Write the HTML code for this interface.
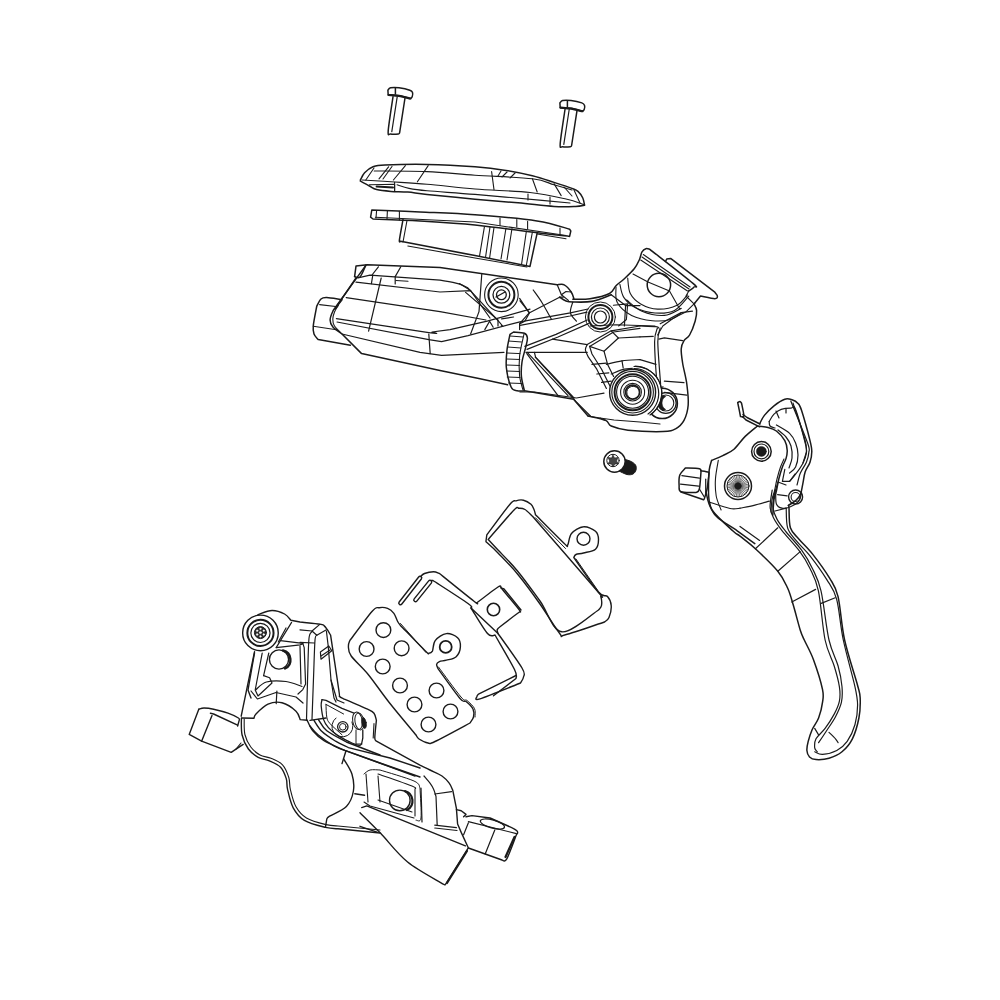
<!DOCTYPE html>
<html><head><meta charset="utf-8"><style>
html,body{margin:0;padding:0;background:#fff;width:1000px;height:1000px;overflow:hidden}
svg{display:block}
</style></head><body>
<svg width="1000" height="1000" viewBox="0 0 1000 1000">
<g fill="none" stroke="#1a1a1a" stroke-linejoin="round" stroke-linecap="round">
<path stroke-width="1.4" d="M486.0,541.0 L486.8,535.0 C490.6,529.9 505.1,509.9 510.0,504.2 C514.9,498.6 513.8,501.5 516.0,500.8 C518.2,500.1 521.0,499.6 523.5,500.2 C526.0,500.8 529.2,502.7 531.0,504.2 C532.8,505.8 533.2,507.8 534.0,509.5 C534.8,511.2 535.2,513.9 535.5,514.8 C540.2,519.5 558.6,538.2 564.0,543.2 C569.4,548.2 566.5,546.4 567.8,544.8 C569.0,543.1 568.9,536.5 571.5,533.5 C574.1,530.5 579.5,527.1 583.5,526.8 C587.5,526.4 593.0,529.1 595.5,531.2 C598.0,533.4 598.5,536.5 598.5,539.5 C598.5,542.5 598.0,547.0 595.5,549.2 C593.0,551.5 586.8,552.1 583.5,553.0 C580.2,553.9 577.6,553.8 576.0,554.5 C574.4,555.2 574.1,557.0 573.8,557.5 C577.9,563.2 592.9,585.5 598.5,592.0 C604.1,598.5 605.4,594.2 607.5,596.5 C609.6,598.8 611.0,602.0 611.2,605.5 C611.5,609.0 610.1,614.8 609.0,617.5 C607.9,620.2 605.2,621.2 604.5,622.0 C598.0,624.1 573.0,632.9 565.5,634.8 C558.0,636.6 563.8,638.4 559.5,633.2 C555.2,628.1 547.0,613.9 540.0,604.0 C533.0,594.1 524.5,582.5 517.5,574.0 C510.5,565.5 503.2,558.4 498.0,553.0 C492.8,547.6 488.0,543.6 486.0,541.8 Z"/>
<path stroke-width="1.4" d="M488.2,539.5 C492.5,534.6 508.6,515.5 513.8,510.2 C518.9,505.1 517.1,508.4 519.0,508.3 C520.9,508.2 522.8,508.2 525.0,509.5 C527.2,510.8 531.2,515.1 532.5,516.2 C543.1,528.5 584.9,576.4 596.2,589.8 C607.6,603.1 599.9,593.9 600.8,596.5 C601.6,599.1 601.9,603.2 601.5,605.5 C601.1,607.8 599.0,609.2 598.5,610.0 C592.4,613.6 571.5,633.2 561.8,631.8 C552.0,630.2 547.4,611.1 540.0,601.0 C532.6,590.9 524.5,579.5 517.5,571.0 C510.5,562.5 502.9,555.2 498.0,550.0 C493.1,544.8 489.9,541.2 488.2,539.5"/>
<path stroke-width="1.0" d="M535.5,517.8 L565.5,548.5"/>
<path stroke-width="1.0" d="M576.0,559.0 L597.8,590.5"/>
<circle stroke-width="1.4" cx="583.5" cy="538.75" r="6.5"/>
<path stroke-width="1.4" d="M349.8,640.6 C353.5,635.7 367.3,616.7 372.2,611.2 C377.1,605.7 376.6,608.2 379.2,607.7 C381.8,607.2 385.2,607.5 387.6,608.4 C390.1,609.3 392.3,611.2 393.9,613.3 C395.5,615.4 396.3,619.0 397.4,621.0 C398.4,623.0 399.7,624.5 400.2,625.2 C404.4,629.5 420.6,646.4 425.4,651.1 C430.2,655.8 427.7,653.2 428.9,653.2 C430.1,653.2 431.3,653.2 432.4,651.1 C433.4,649.0 432.9,643.5 435.2,640.6 C437.5,637.7 442.7,634.1 446.4,633.6 C450.1,633.1 455.3,635.6 457.6,637.8 C459.9,640.0 460.6,643.8 460.4,646.9 C460.2,650.0 458.5,654.5 456.2,656.7 C453.9,658.9 449.2,659.4 446.4,660.2 C443.6,661.0 441.0,660.9 439.4,661.6 C437.8,662.3 436.8,663.2 436.6,664.4 C436.4,665.6 437.8,667.9 438.0,668.6 C441.7,673.6 455.3,693.0 460.0,698.5 C464.7,704.0 463.8,699.8 466.0,701.5 C468.2,703.2 471.8,706.4 473.0,709.0 C474.2,711.6 474.0,714.7 473.5,717.0 C473.0,719.3 470.6,722.0 470.0,723.0 C464.2,726.1 442.0,738.2 435.0,741.5 C428.0,744.8 430.7,743.4 428.0,743.0 C425.3,742.6 421.0,740.3 419.0,739.0 C417.0,737.7 416.5,735.7 416.0,735.0 C411.5,729.5 397.0,712.3 389.0,702.2 C381.0,692.1 374.3,681.9 368.0,674.2 C361.7,666.5 354.5,660.7 351.2,656.0 C347.9,651.3 348.6,648.8 348.4,646.2 C348.2,643.6 349.6,641.5 349.8,640.6 Z"/>
<path stroke-width="1.0" d="M400.5,623.5 L426.0,652.5"/>
<path stroke-width="1.0" d="M438.5,667.0 C442.2,672.0 456.2,691.4 461.0,697.0 C465.8,702.6 464.8,698.6 467.0,700.5 C469.2,702.4 473.2,705.8 474.5,708.5 C475.8,711.2 474.9,715.6 475.0,717.0"/>
<circle stroke-width="1.8" cx="445.7" cy="646.9" r="6.0"/>
<circle stroke-width="1.4" cx="383.4" cy="630.1" r="7.4"/>
<circle stroke-width="1.4" cx="366.6" cy="649.0" r="7.4"/>
<circle stroke-width="1.4" cx="401.6" cy="648.3" r="7.4"/>
<circle stroke-width="1.4" cx="382.7" cy="666.5" r="7.4"/>
<circle stroke-width="1.4" cx="400.0" cy="685.5" r="7.4"/>
<circle stroke-width="1.4" cx="436.5" cy="690.5" r="7.4"/>
<circle stroke-width="1.4" cx="414.5" cy="704.5" r="7.4"/>
<circle stroke-width="1.4" cx="450.5" cy="711.5" r="7.4"/>
<circle stroke-width="1.4" cx="428.5" cy="724.5" r="7.4"/>
<path stroke-width="1.4" d="M420.0,577.0 C420.8,576.4 422.2,574.4 424.5,573.5 C426.8,572.6 431.0,571.7 433.5,571.7 C436.0,571.7 438.5,573.2 439.5,573.5 C445.2,578.1 467.8,596.4 474.0,601.2 C480.2,606.1 476.5,602.5 477.0,602.8 C480.5,600.1 494.0,589.5 498.0,587.0 C502.0,584.5 500.5,587.6 501.0,587.8 C504.0,591.4 515.9,605.5 519.0,609.5 C522.1,613.5 519.6,611.4 519.8,611.8 C516.6,614.1 504.8,623.0 501.0,626.0 C497.2,629.0 497.8,628.5 497.2,629.8 C496.8,631.0 497.9,632.9 498.0,633.5 C502.0,639.2 517.8,660.8 522.0,668.0 C526.2,675.2 523.8,674.5 523.5,677.0 C523.2,679.5 521.0,682.0 520.5,683.0 C513.8,685.6 487.2,696.5 480.0,698.8 C472.8,701.0 477.2,697.2 477.0,696.5 C476.8,695.8 478.2,694.6 478.5,694.2 L516.0,675.5"/>
<path stroke-width="1.4" d="M429.5,582.0 C429.8,581.8 430.4,580.8 431.0,580.5 C431.6,580.2 432.7,580.5 433.0,580.5 C438.8,584.3 461.7,598.9 468.0,603.5 C474.3,608.1 470.5,607.2 471.0,608.0 C473.8,612.2 483.5,629.0 487.5,633.5 C491.5,638.0 493.8,634.8 495.0,635.0 C498.2,640.8 511.0,662.2 514.5,669.5 C518.0,676.8 515.8,677.0 516.0,678.5 L493.5,695.8"/>
<path stroke-width="1.4" d="M471.0,608.0 L498.0,633.5"/>
<path stroke-width="1.4" d="M501.0,587.8 L504.0,589.0 L521.0,610.0"/>
<path stroke-width="4.8" d="M400.5,603 L420,578"/>
<path stroke-width="4.8" d="M415.5,600 L430,582"/>
<path stroke-width="2.0" stroke="#ffffff" d="M400.5,603 L420,578"/>
<path stroke-width="2.0" stroke="#ffffff" d="M415.5,600 L430,582"/>
<circle stroke-width="1.6" cx="493.5" cy="609.5" r="6.2"/>
<path stroke-width="1.4" d="M258.0,614.7 C260.3,614.0 267.6,610.6 272.0,610.5 C276.4,610.4 281.5,612.4 284.6,614.0 C287.8,615.6 289.8,619.2 290.9,620.3 L300.0,622.0 C303.3,622.4 315.8,623.5 319.8,624.1 C323.8,624.7 322.8,624.8 324.0,625.6 C325.2,626.5 325.9,627.6 327.0,629.2 C328.1,630.8 330.0,634.2 330.6,635.2 C332.0,644.3 337.3,679.8 338.8,690.0 C340.3,700.2 338.8,694.9 339.6,696.4 C340.4,697.9 342.9,698.4 343.6,698.8 C347.6,700.5 362.5,706.8 367.6,709.2 C372.7,711.6 372.5,711.3 374.0,713.2 C375.5,715.1 376.0,719.2 376.4,720.4 C376.1,723.3 374.8,734.5 374.8,738.0 C374.8,741.5 376.1,740.7 376.4,741.2 L420.4,765.4 C422.0,766.2 426.4,768.2 430.0,770.0 C433.6,771.8 438.8,773.8 442.0,776.0 C445.2,778.2 447.4,780.8 449.2,783.2 C451.0,785.6 452.2,789.2 452.8,790.4 L456.4,808.4 L457.6,824.0 L461.2,832.4 L468.4,848.0"/>
<circle stroke-width="1.4" cx="260.45" cy="632.9" r="17.8"/>
<circle stroke-width="2.0" cx="260.45" cy="632.9" r="13.1"/>
<circle stroke-width="1.2" cx="260.45" cy="632.9" r="9.6"/>
<circle stroke-width="1.0" fill="#2a2a2a" cx="260.45" cy="632.6" r="6.0"/>
<circle stroke-width="0.3" stroke="#ffffff" fill="#ffffff" cx="263.74" cy="634.5" r="0.9"/>
<circle stroke-width="0.3" stroke="#ffffff" fill="#ffffff" cx="260.45" cy="636.4" r="0.9"/>
<circle stroke-width="0.3" stroke="#ffffff" fill="#ffffff" cx="257.16" cy="634.5" r="0.9"/>
<circle stroke-width="0.3" stroke="#ffffff" fill="#ffffff" cx="257.16" cy="630.7" r="0.9"/>
<circle stroke-width="0.3" stroke="#ffffff" fill="#ffffff" cx="260.45" cy="628.8" r="0.9"/>
<circle stroke-width="0.3" stroke="#ffffff" fill="#ffffff" cx="263.74" cy="630.7" r="0.9"/>
<circle stroke-width="0.3" stroke="#ffffff" fill="#ffffff" cx="260.45" cy="632.6" r="1.2"/>
<path stroke-width="1.4" d="M254.5,651.8 L241.2,716.2"/>
<path stroke-width="1.4" d="M254.5,653.0 L248.0,690.0 L251.0,698.0"/>
<circle stroke-width="1.4" cx="279.0" cy="659.5" r="9.6"/>
<path stroke-width="2.4" d="M283,650.5 A9.6,9.6 0 0 1 285,668.5"/>
<path stroke-width="1.2" d="M291.6,622.4 L280.4,640.6 L276.2,647.6"/>
<path stroke-width="1.2" d="M286.0,628.0 L278.3,642.0"/>
<path stroke-width="1.2" d="M280.4,640.6 L302.8,643.4"/>
<path stroke-width="1.2" d="M276.2,647.6 L300.0,644.8 L302.8,644.0"/>
<path stroke-width="1.2" d="M302.8,643.4 L304.2,647.6 L305.6,684.0 L302.8,689.6 L298.0,694.0"/>
<path stroke-width="1.2" d="M300.0,646.0 L301.0,684.0"/>
<path stroke-width="1.2" d="M262.2,653.2 L255.2,690.0 L258.0,696.0 L272.0,683.0 L269.6,677.8 L263.6,675.6"/>
<path stroke-width="1.2" d="M268.8,653.0 L263.6,675.6"/>
<path stroke-width="1.2" d="M251.0,691.0 L257.4,699.0 L276.0,692.5 L296.0,697.0 L303.0,703.0"/>
<path stroke-width="1.2" d="M255.5,690.0 C257.3,688.7 261.3,683.4 266.4,682.0 C271.5,680.6 280.1,680.8 286.0,681.5 C291.9,682.2 299.3,685.7 302.0,686.5"/>
<path stroke-width="1.2" d="M276.9,691.0 L276.2,703.6"/>
<path stroke-width="1.2" d="M300.0,629.8 L312.0,631.0 L316.8,635.2 L326.4,629.8"/>
<path stroke-width="1.2" d="M319.8,624.4 L312.0,631.0"/>
<path stroke-width="1.2" d="M312.0,631.6 C311.5,632.7 309.7,631.8 309.0,638.2 C308.3,644.6 308.0,664.7 307.8,670.0 L306.5,720.0"/>
<path stroke-width="1.2" d="M316.8,635.2 C316.5,636.0 315.5,634.2 315.0,640.0 C314.5,645.8 314.0,665.0 313.8,670.0 L312.0,719.5"/>
<path stroke-width="1.2" d="M326.4,631.0 L328.2,646.0 L331.0,680.0 L334.0,698.0 L336.0,702.0"/>
<path stroke-width="1.2" d="M300.0,642.4 L314.4,643.0"/>
<path stroke-width="1.2" d="M320.4,652.0 L328.8,646.0 L331.8,650.8 L321.0,659.2 L320.4,652.0"/>
<path stroke-width="1.2" d="M321.0,656.0 L330.0,650.0"/>
<path stroke-width="1.2" d="M331.0,680.0 L337.0,700.0 L344.0,703.0"/>
<path stroke-width="1.4" d="M241.6,718.0 L254.0,718.2 C254.3,717.5 253.7,716.3 256.0,714.0 C258.3,711.7 263.7,706.1 268.0,704.2 C272.3,702.3 277.3,701.6 282.0,702.8 C286.7,704.0 293.0,708.4 296.0,711.2 C299.0,714.0 299.5,718.2 300.2,719.6 L307.2,720.3"/>
<path stroke-width="1.4" d="M198.8,709.2 C199.7,709.0 201.5,708.0 204.0,708.0 C206.5,708.0 209.6,708.3 213.6,709.2 C217.6,710.1 223.9,711.7 228.0,713.2 C232.1,714.7 236.5,716.8 238.4,718.0 C240.3,719.2 239.1,720.0 239.2,720.4 L237.6,726.0"/>
<path stroke-width="1.4" d="M198.8,709.2 L189.2,734.4 L201.6,741.2 L231.2,752.4 L236.0,749.2 L243.2,744.4"/>
<path stroke-width="1.1" d="M236.0,749.2 L241.0,743.0"/>
<path stroke-width="1.4" d="M210.4,713.2 L213.6,714.0 L237.6,725.2"/>
<path stroke-width="1.4" d="M212.0,715.6 L201.6,741.2"/>
<path stroke-width="1.4" d="M241.4,718.2 C241.5,721.0 240.9,729.9 242.1,735.0 C243.3,740.1 245.7,745.3 248.4,749.0 C251.1,752.7 254.7,755.4 258.2,757.4 C261.7,759.4 265.7,759.3 269.4,760.9 C273.1,762.5 277.8,764.3 280.6,767.2 C283.4,770.1 285.0,774.7 286.2,778.4 C287.4,782.1 286.4,784.7 287.6,789.6 C288.8,794.5 290.4,802.7 293.2,807.8 C296.0,812.9 299.0,817.1 304.4,820.4 C309.8,823.7 319.8,826.0 325.4,827.4 C331.0,828.8 335.9,828.6 338.0,828.8 L380.0,833.0"/>
<path stroke-width="1.1" d="M244.2,719.0 C244.3,721.6 243.8,729.8 244.9,734.5 C246.0,739.2 248.3,743.6 250.8,747.0 C253.3,750.4 256.6,753.1 260.0,755.0 C263.4,756.9 267.2,756.7 271.0,758.3 C274.8,759.9 279.5,761.6 282.5,764.8 C285.5,768.0 287.5,773.4 288.8,777.5 C290.1,781.6 289.2,784.7 290.4,789.6 C291.6,794.5 293.3,802.1 296.0,806.8 C298.7,811.5 301.4,815.0 306.4,818.0 C311.4,821.0 320.7,823.3 326.0,824.6 C331.3,825.9 336.0,825.8 338.0,826.0 L380.0,830.0"/>
<path stroke-width="1.4" d="M343.6,758.8 C345.0,761.4 350.4,768.8 352.0,774.2 C353.6,779.6 354.3,785.6 353.4,791.0 C352.5,796.4 350.4,802.2 346.4,806.4 C342.4,810.6 332.9,814.1 329.6,816.2 C326.3,818.3 327.3,818.5 326.8,819.0 L325.4,827.4"/>
<path stroke-width="1.4" d="M354.8,793.8 L364.6,795.2"/>
<path stroke-width="1.4" d="M307.2,720.3 C308.1,722.0 310.0,727.4 312.8,730.8 C315.6,734.2 318.6,737.3 324.0,740.6 C329.4,743.9 341.5,748.8 345.0,750.4 L380.0,763.0 L420.0,777.0"/>
<path stroke-width="1.4" d="M318.4,719.6 C319.8,721.5 322.1,727.1 326.8,730.8 C331.5,734.5 343.1,740.1 346.4,742.0 L380.0,755.0"/>
<path stroke-width="1.4" d="M346.0,750.8 L342.0,763.6"/>
<path stroke-width="1.4" d="M310.0,726.0 C311.3,727.5 314.0,731.5 318.0,734.8 C322.0,738.1 329.3,743.3 334.0,746.0 C338.7,748.7 344.0,750.0 346.0,750.8 L390.0,766.8 L415.0,776.0"/>
<path stroke-width="1.4" d="M314.0,720.4 C315.3,722.3 318.4,728.1 322.0,731.6 C325.6,735.1 331.2,738.5 335.6,741.2 C340.0,743.9 346.3,746.5 348.4,747.6 L390.0,758.0 L420.0,768.0"/>
<path stroke-width="1.4" d="M310.0,720.4 L326.0,718.0"/>
<path stroke-width="1.1" d="M374.0,723.6 L373.2,738.0"/>
<path stroke-width="1.3" d="M322.0,699.6 C321.9,700.7 320.9,702.7 321.2,706.0 C321.5,709.3 322.4,716.0 323.6,719.6 C324.8,723.2 326.0,724.9 328.4,727.6 C330.8,730.3 334.4,733.2 338.0,735.6 C341.6,738.0 346.7,740.4 350.0,742.0 C353.3,743.6 356.1,744.8 358.0,745.2 C359.9,745.6 360.4,745.6 361.2,744.4 C362.0,743.2 362.5,739.1 362.8,738.0 L362.8,730.0"/>
<path stroke-width="1.3" d="M322.0,699.6 L326.0,700.4 L342.0,708.4 L354.0,713.2"/>
<path stroke-width="1.0" d="M326.0,704.4 L343.6,714.0"/>
<path stroke-width="1.0" d="M326.0,704.4 C326.1,706.5 326.1,714.0 326.8,717.2 C327.5,720.4 327.5,720.7 330.0,723.6 C332.5,726.5 340.0,732.9 342.0,734.8"/>
<path stroke-width="1.0" d="M336,718 A10.5,10.5 0 1 0 352,722"/>
<circle stroke-width="1.3" cx="342.8" cy="726.8" r="5.2"/>
<circle stroke-width="1.0" cx="342.8" cy="726.8" r="3.3"/>
<ellipse stroke-width="1.0" cx="357.5" cy="720.8" rx="4.8" ry="8.8" transform="rotate(-10.0 357.5 720.8)"/>
<ellipse stroke-width="1.0" cx="359.5" cy="721.5" rx="4.5" ry="8.5" transform="rotate(-10.0 359.5 721.5)"/>
<ellipse stroke-width="0.8" fill="#1a1a1a" cx="364.0" cy="723.0" rx="2.2" ry="5.5" transform="rotate(-10.0 364.0 723.0)"/>
<path stroke-width="1.0" d="M356.0,730.0 L356.0,744.0 L362.0,744.0"/>
<path stroke-width="1.0" d="M364.0,774.0 C365.0,773.3 367.3,770.7 370.0,770.0 C372.7,769.3 378.3,770.0 380.0,770.0 C385.7,771.8 407.3,778.0 414.0,781.0 C420.7,784.0 419.0,786.8 420.0,788.0 C420.2,793.0 421.7,812.7 421.0,818.0 C420.3,823.3 416.8,819.7 416.0,820.0"/>
<path stroke-width="1.1" d="M378.0,774.0 C383.7,776.0 405.8,783.5 412.0,786.0 C418.2,788.5 414.5,788.5 415.0,789.0 L415.0,816.0"/>
<path stroke-width="1.1" d="M366.0,774.0 L368.0,802.0"/>
<path stroke-width="1.1" d="M378.0,776.0 L380.0,802.0"/>
<path stroke-width="1.1" d="M364.0,802.0 L370.0,806.0 L414.0,818.0"/>
<path stroke-width="1.1" d="M378.0,800.0 L412.0,812.0"/>
<circle stroke-width="1.4" cx="399.8" cy="800.4" r="10.3"/>
<path stroke-width="2.2" d="M405,791 A10.3,10.3 0 0 1 407,810"/>
<path stroke-width="1.2" d="M424.0,776.0 C425.0,777.2 428.4,781.0 430.0,783.2 C431.6,785.4 432.6,787.0 433.6,789.2 C434.6,791.4 435.6,795.2 436.0,796.4 L437.2,825.2"/>
<path stroke-width="1.2" d="M421.0,788.0 L422.0,822.0"/>
<path stroke-width="1.2" d="M434.8,794.0 L451.6,791.6"/>
<path stroke-width="1.2" d="M434.8,825.2 L456.4,827.6"/>
<path stroke-width="1.2" d="M434.8,828.0 L457.0,830.5"/>
<path stroke-width="1.4" d="M361.7,807.6 L366.8,805.9 L465.4,845.9"/>
<path stroke-width="1.4" d="M468.0,848.4 L445.0,885.0 L443.3,884.1 C437.4,880.4 418.1,870.5 407.6,862.0 C397.1,853.5 388.3,841.3 380.4,833.1 C372.5,824.9 363.4,816.1 360.0,812.7"/>
<path stroke-width="2.2" d="M467.0,851.0 L447.0,883.0"/>
<path stroke-width="1.4" d="M360.0,826.3 L377.0,832.2"/>
<path stroke-width="1.4" d="M456.4,809.6 L461.2,810.8 L466.0,814.4 L463.6,816.8"/>
<path stroke-width="1.4" d="M466.0,816.8 L472.0,815.6 L490.0,818.0 C494.0,819.8 509.4,826.4 514.0,828.8 C518.6,831.2 517.2,831.4 517.6,832.4 C518.0,833.4 516.6,834.4 516.4,834.8 C514.8,838.8 509.2,854.6 506.8,858.8 C504.4,863.0 502.8,859.8 502.0,860.0 L468.4,848.0"/>
<path stroke-width="1.2" d="M468.4,821.6 L516.4,833.6"/>
<path stroke-width="1.2" d="M494.8,830.0 L485.2,854.0"/>
<path stroke-width="1.2" d="M468.4,822.8 L463.6,834.8"/>
<ellipse stroke-width="1.2" cx="492.4" cy="824.0" rx="12.5" ry="4.0" transform="rotate(15.0 492.4 824.0)"/>
<path stroke-width="2.2" d="M514.5,837.0 L505.5,857.0"/>
<path stroke-width="1.5" d="M387.9,90.2 C388.3,89.8 388.8,88.2 390.6,87.8 C392.5,87.4 395.8,87.4 399.0,87.8 C402.2,88.2 407.6,89.4 409.8,90.2 C412.1,91.0 412.1,91.5 412.5,92.6 C412.9,93.7 412.6,95.8 412.2,96.8 C411.8,97.8 410.7,98.3 410.4,98.6 C408.5,98.1 402.7,96.2 399.0,95.6 C395.3,95.0 390.0,95.1 388.2,95.0 L387.9,90.2 Z"/>
<path stroke-width="1.5" d="M395.4,88.4 L395.4,94.0"/>
<path stroke-width="2.2" d="M388.5,95.0 C390.2,95.2 395.4,95.4 399.0,96.0 C402.6,96.6 408.5,98.1 410.4,98.5"/>
<path stroke-width="1.5" d="M393.0,96.8 C392.2,102.5 388.6,124.8 388.2,131.0 C387.8,137.2 388.9,133.5 390.6,134.0 C392.3,134.5 396.9,134.2 398.4,134.0 C399.9,133.8 399.4,133.0 399.6,132.8 L405.0,98.0"/>
<path stroke-width="1.2" d="M397.2,96.8 L391.8,131.6"/>
<path stroke-width="1.5" d="M559.9,102.9 C560.4,102.5 560.8,100.9 562.6,100.5 C564.5,100.1 567.8,100.1 571.0,100.5 C574.2,100.9 579.5,102.1 581.8,102.9 C584.0,103.7 584.1,104.2 584.5,105.3 C584.9,106.4 584.6,108.5 584.2,109.5 C583.9,110.5 582.7,111.0 582.4,111.3 C580.5,110.8 574.7,108.9 571.0,108.3 C567.3,107.7 562.0,107.8 560.2,107.7 L559.9,102.9 Z"/>
<path stroke-width="1.5" d="M567.4,101.1 L567.4,106.7"/>
<path stroke-width="2.2" d="M560.5,107.7 C562.2,107.9 567.4,108.1 571.0,108.7 C574.6,109.3 580.5,110.8 582.4,111.2"/>
<path stroke-width="1.5" d="M565.0,109.5 C564.2,115.2 560.6,137.5 560.2,143.7 C559.8,149.9 560.9,146.2 562.6,146.7 C564.3,147.2 568.9,146.9 570.4,146.7 C571.9,146.5 571.4,145.7 571.6,145.5 L577.0,110.7"/>
<path stroke-width="1.2" d="M569.2,109.5 L563.8,144.3"/>
<path stroke-width="1.5" d="M360.4,180.0 C361.1,178.8 362.5,175.0 364.6,172.8 C366.7,170.6 369.6,168.1 373.0,166.8 C376.4,165.5 376.0,165.4 385.0,165.0 C394.0,164.6 412.0,164.1 427.0,164.4 C442.0,164.7 461.8,165.8 475.0,166.8 C488.2,167.8 496.4,168.9 506.0,170.4 C515.6,171.9 524.4,173.8 532.4,175.8 C540.4,177.8 547.4,180.3 554.0,182.4 C560.6,184.5 568.0,186.9 572.0,188.4 C576.0,189.9 576.2,189.8 578.0,191.4 C579.8,193.0 581.7,195.7 582.8,198.0 C583.9,200.3 584.3,204.0 584.6,205.2 C583.1,205.4 580.7,206.2 575.6,206.4 C570.5,206.6 563.6,207.0 554.0,206.4 C544.4,205.8 531.2,204.0 518.0,202.8 C504.8,201.6 490.2,200.6 475.0,199.2 C459.8,197.8 438.2,195.6 427.0,194.4 C415.8,193.2 413.8,192.5 407.8,192.0 C401.8,191.5 396.2,191.8 391.0,191.4 C385.8,191.0 380.2,190.5 376.6,189.6 C373.0,188.7 372.1,187.4 369.4,186.0 C366.7,184.6 361.9,182.0 360.4,181.2 Z"/>
<path stroke-width="1.1" d="M362.2,180.0 C367.0,180.3 380.2,181.1 391.0,181.8 C401.8,182.5 413.0,183.0 427.0,184.2 C441.0,185.4 457.8,187.6 475.0,189.0 C492.2,190.4 514.8,190.8 530.0,192.5 C545.2,194.2 557.0,197.0 566.0,199.0 C575.0,201.0 581.0,203.7 584.0,204.6"/>
<path stroke-width="1.1" d="M369.4,184.8 L394.6,184.2 L394.6,190.8"/>
<path stroke-width="2.0" d="M376.6,186.5 L393.0,187.5"/>
<path stroke-width="1.1" d="M374.2,171.0 C383.0,171.1 410.2,170.9 427.0,171.6 C443.8,172.3 457.4,174.0 475.0,175.2 C492.6,176.4 519.2,177.2 532.4,178.8 C545.6,180.4 547.4,182.9 554.0,184.8 C560.6,186.7 569.0,189.1 572.0,190.0"/>
<path stroke-width="1.1" d="M397.0,184.8 C399.0,185.4 404.0,187.4 409.0,188.4 C414.0,189.4 416.0,189.8 427.0,190.8 C438.0,191.8 455.8,192.8 475.0,194.4 C494.2,196.0 526.2,199.0 542.0,200.4 C557.8,201.8 565.3,202.6 570.0,203.0"/>
<path stroke-width="1.1" d="M365.8,180.0 L374.0,168.0"/>
<path stroke-width="1.1" d="M379.0,178.8 L388.6,166.8"/>
<path stroke-width="1.1" d="M383.0,179.0 L392.0,166.5"/>
<path stroke-width="1.1" d="M393.4,180.0 L405.4,165.6"/>
<path stroke-width="1.1" d="M417.4,181.8 L428.2,165.6"/>
<path stroke-width="1.1" d="M394.6,182.4 L394.6,190.8"/>
<path stroke-width="1.1" d="M491.6,171.6 L494.0,189.6"/>
<path stroke-width="1.1" d="M501.0,171.0 L498.0,176.0"/>
<path stroke-width="1.1" d="M507.0,172.0 L502.0,177.0"/>
<path stroke-width="1.1" d="M515.0,173.0 L510.0,178.0"/>
<path stroke-width="1.1" d="M532.4,178.8 L537.2,192.0"/>
<path stroke-width="1.1" d="M554.0,183.6 L561.2,195.6"/>
<path stroke-width="1.1" d="M564.0,187.0 L572.0,196.0"/>
<path stroke-width="1.1" d="M574.0,190.0 L580.0,203.0"/>
<path stroke-width="1.1" d="M528.0,194.0 L528.0,200.0"/>
<path stroke-width="1.1" d="M550.0,197.0 L550.0,204.0"/>
<path stroke-width="1.5" d="M371.8,210.0 C379.8,210.3 402.8,211.2 420.0,212.0 C437.2,212.8 455.5,213.3 475.0,214.8 C494.5,216.3 521.2,218.6 537.0,221.0 C552.8,223.4 564.2,227.8 569.6,229.2 L570.8,231.0 L569.6,236.4 C564.2,235.8 553.0,234.7 537.2,232.8 C521.4,230.9 494.5,227.0 475.0,225.0 C455.5,223.0 437.0,222.0 420.0,221.0 C403.0,220.0 380.8,219.3 373.0,219.0 L370.6,217.2 Z"/>
<path stroke-width="1.1" d="M375.4,217.2 L475.0,222.0 L566.0,235.5"/>
<path stroke-width="1.1" d="M376.6,210.5 L376.0,218.0"/>
<path stroke-width="1.1" d="M387.4,210.8 L387.0,219.0"/>
<path stroke-width="1.1" d="M399.4,211.3 L399.4,220.0"/>
<path stroke-width="1.1" d="M500.0,218.0 L500.0,225.5"/>
<path stroke-width="1.1" d="M516.8,219.6 L516.8,227.0"/>
<path stroke-width="1.1" d="M527.6,221.4 L527.6,229.0"/>
<path stroke-width="1.1" d="M560.0,228.0 L560.0,235.0"/>
<path stroke-width="1.5" d="M403.0,219.6 C402.4,223.0 399.8,236.4 399.4,240.0 C399.0,243.6 400.4,241.0 400.6,241.2 L475.0,255.6 L530.0,266.4 L537.2,232.8"/>
<path stroke-width="1.1" d="M407.0,220.5 L403.0,242.0"/>
<path stroke-width="1.1" d="M407.8,246.0 L475.0,258.0 L527.0,267.0"/>
<path stroke-width="1.1" d="M537.2,234.0 L566.0,238.8"/>
<path stroke-width="1.1" d="M484.4,226.8 L479.6,255.6"/>
<path stroke-width="1.1" d="M490.0,227.0 L485.6,256.8"/>
<path stroke-width="1.1" d="M494.0,227.5 L489.6,258.0"/>
<path stroke-width="1.1" d="M506.0,228.0 L501.0,259.0"/>
<path stroke-width="1.1" d="M512.0,228.5 L507.0,260.0"/>
<path stroke-width="1.1" d="M526.4,231.0 L521.6,264.0"/>
<path stroke-width="1.1" d="M532.4,232.0 L526.4,265.0"/>
<path stroke-width="1.0" fill="#1a1a1a" d="M619.0,458.0 C620.8,458.5 627.2,459.8 630.0,461.0 C632.8,462.2 634.5,463.5 635.5,465.0 C636.5,466.5 636.4,468.5 636.0,470.0 C635.6,471.5 634.5,473.2 633.0,474.0 C631.5,474.8 629.3,475.0 627.0,474.5 C624.7,474.0 620.3,471.6 619.0,471.0 Z"/>
<circle stroke-width="1.5" fill="#ffffff" cx="614.5" cy="461.5" r="10.7"/>
<circle stroke-width="1.0" cx="613.0" cy="460.5" r="6.2"/>
<path stroke-width="0.6" fill="#444444" d="M613,455 L614.5,458 L618,457.5 L616.5,461 L618.5,464 L614.8,464 L613,467 L611.5,464 L607.8,464 L609.8,461 L608,457.5 L611.5,458 Z"/>
<path stroke-width="1.5" d="M335.0,308.8 L342.0,299.7 C339.4,299.4 330.1,297.7 326.6,297.6 C323.1,297.5 322.6,297.6 321.0,299.0 C319.4,300.4 317.5,304.8 316.8,306.0 C316.2,309.3 313.8,320.9 313.3,325.6 C312.8,330.3 313.2,331.7 314.0,334.0 C314.8,336.3 317.5,338.7 318.2,339.6 L350.4,345.2"/>
<path stroke-width="1.1" d="M319.6,304.6 L337.8,306.7"/>
<path stroke-width="1.1" d="M313.3,326.3 L336.4,329.8"/>
<path stroke-width="1.5" d="M354.6,276.6 L356.0,266.1 L367.2,264.7 L440.0,267.5 L557.2,284.8 C558.4,284.8 561.9,283.6 564.2,284.8 C566.5,286.0 569.6,289.6 571.2,292.0 C572.8,294.4 573.5,297.8 574.0,299.0 L572.8,299.2 C575.7,299.1 583.9,299.6 590.0,298.7 C596.1,297.8 605.2,295.7 609.5,293.5 C613.8,291.3 613.6,288.1 616.0,285.7 C618.4,283.3 620.8,282.0 623.8,279.2 C626.8,276.4 631.6,272.1 634.2,268.8 C636.8,265.6 638.1,262.5 639.4,259.7 C640.7,256.9 640.9,253.7 642.0,251.9 C643.1,250.1 644.6,249.1 645.9,248.7 C647.2,248.3 649.1,249.2 649.8,249.3 C656.9,254.9 685.3,276.8 692.7,283.1 C700.1,289.4 694.6,285.7 694.0,287.0 C693.4,288.3 689.7,290.2 688.8,290.9"/>
<path stroke-width="1.5" d="M365.8,265.4 C360.9,272.2 341.9,298.4 336.4,306.0 C330.9,313.6 334.1,308.7 333.0,311.0 C331.9,313.3 330.1,317.3 330.1,320.0 C330.1,322.7 330.9,324.7 332.9,327.0 C334.9,329.3 340.5,332.8 342.0,334.0 L361.6,353.6 L440.0,370.4 L480.0,378.8 L507.6,384.8"/>
<path stroke-width="1.5" d="M356.0,278.0 L335.0,308.8"/>
<path stroke-width="1.5" d="M354.6,276.6 C355.5,276.7 358.1,278.9 360.0,277.0 C361.9,275.1 364.8,267.3 365.8,265.4"/>
<path stroke-width="1.5" d="M524.4,390.8 L573.6,399.2 L588.0,416.0 C590.9,416.7 601.7,418.7 605.6,420.4 C609.5,422.1 607.5,424.4 611.2,426.0 C614.9,427.6 619.4,429.3 628.0,430.2 C636.6,431.1 655.1,431.8 663.0,431.6 C670.9,431.4 672.1,430.7 675.6,428.8 C679.1,426.9 681.9,424.4 684.0,420.4 C686.1,416.4 687.7,411.1 688.2,405.0 C688.7,398.9 687.7,391.0 686.8,384.0 C685.9,377.0 683.5,368.8 682.6,363.0 C681.7,357.2 681.0,352.7 681.2,349.0 C681.4,345.3 682.6,342.9 684.0,340.6 C685.4,338.3 687.7,338.3 689.6,335.0 C691.5,331.7 694.0,325.1 695.2,321.0 C696.4,316.9 696.8,313.2 696.6,310.4 C696.4,307.5 694.4,305.0 694.0,303.9 L700.5,296.1 C702.9,296.5 712.0,298.7 714.8,298.7 C717.6,298.7 717.4,297.2 717.4,296.1 C717.4,295.0 715.2,292.9 714.8,292.2 L670.6,258.4 L666.7,259.0 L665.5,261.5"/>
<path stroke-width="1.1" d="M643.3,254.5 L690.1,287.0"/>
<path stroke-width="1.1" d="M642.0,257.0 L689.0,289.0"/>
<path stroke-width="1.1" d="M640.7,260.0 L687.5,291.0"/>
<path stroke-width="1.1" d="M688.8,290.9 L686.0,296.0 L694.0,303.9"/>
<circle stroke-width="1.5" cx="658.9" cy="285.0" r="11.7"/>
<path stroke-width="1.1" d="M633.0,274.0 L648.0,282.0 L669.5,291.0 L679.7,309.1"/>
<path stroke-width="1.1" d="M619.9,284.4 C620.5,286.6 621.2,293.5 623.8,297.4 C626.4,301.3 630.3,305.2 635.5,307.8 C640.7,310.4 648.5,312.6 655.0,313.0 C661.5,313.4 668.9,313.2 674.5,310.4 C680.1,307.6 686.4,298.5 688.8,296.1"/>
<path stroke-width="1.1" d="M627.7,278.0 C628.1,280.6 628.1,289.2 630.3,293.5 C632.5,297.8 636.2,301.3 640.7,303.9 C645.2,306.5 651.5,308.9 657.6,309.1 C663.7,309.3 672.1,307.6 677.1,305.2 C682.1,302.8 685.8,296.5 687.5,294.8"/>
<path stroke-width="1.1" d="M616.0,287.0 C616.2,289.6 614.7,297.8 617.3,302.6 C619.9,307.4 625.8,312.6 631.6,315.6 C637.5,318.6 645.9,320.2 652.4,320.8 C658.9,321.4 665.8,320.8 670.6,319.5 C675.4,318.2 679.3,314.1 681.0,313.0"/>
<path stroke-width="1.1" d="M613.4,305.2 L627.7,303.9 L626.4,319.5 L618.6,326.0"/>
<path stroke-width="1.1" d="M590.0,326.0 L616.0,324.7 L655.0,326.0"/>
<path stroke-width="1.1" d="M695.3,302.6 L686.2,311.7 L673.2,318.2 L662.8,326.0 L657.6,335.0"/>
<path stroke-width="1.1" d="M338.5,305.0 C337.8,306.2 335.4,309.7 334.5,312.0 C333.6,314.3 332.9,316.7 332.8,319.0 C332.8,321.3 332.9,323.3 334.2,325.6 C335.5,327.9 339.5,331.4 340.6,332.6"/>
<path stroke-width="1.1" d="M396.0,280.5 L408.0,281.2"/>
<path stroke-width="1.2" d="M557.2,284.8 L561.4,294.8 L568.4,300.4"/>
<path stroke-width="1.2" d="M561.4,294.8 L566.0,291.5 L571.2,292.0"/>
<path stroke-width="1.2" d="M360.2,277.3 L370.0,275.2 L440.0,280.1 C443.0,280.7 453.4,282.3 458.0,283.6 C462.6,284.9 466.2,287.1 467.8,287.8 C473.2,293.6 494.4,316.5 500.0,322.8 C505.6,329.1 501.2,325.1 501.4,325.6"/>
<path stroke-width="1.2" d="M356.0,282.2 L440.0,292.0 L470.6,290.6 L490.0,318.0"/>
<path stroke-width="1.2" d="M346.2,297.6 L440.0,311.6 L486.0,320.0"/>
<path stroke-width="1.2" d="M336.4,318.6 C351.8,320.9 412.9,330.4 428.8,332.6 C444.7,334.8 431.5,332.1 432.0,332.0 L450.0,329.6 L487.2,321.2 L530.0,309.2"/>
<path stroke-width="1.2" d="M337.0,322.0 L428.8,339.6 L441.6,341.6 L468.0,335.6 L520.0,321.8 L570.4,312.8 L588.0,309.0"/>
<path stroke-width="1.2" d="M342.0,334.0 L420.0,352.4 L441.6,355.4 L504.0,352.4"/>
<path stroke-width="1.2" d="M381.2,278.0 L368.6,331.2"/>
<path stroke-width="1.2" d="M372.8,275.2 L371.4,283.6"/>
<path stroke-width="1.2" d="M395.2,276.6 L395.2,284.0"/>
<path stroke-width="1.2" d="M378.4,266.8 L372.0,275.0"/>
<path stroke-width="1.2" d="M400.8,266.8 L395.2,276.6"/>
<path stroke-width="1.2" d="M428.8,334.0 L430.2,353.6"/>
<path stroke-width="1.2" d="M481.8,273.8 L479.0,311.6 L470.6,334.0"/>
<path stroke-width="1.2" d="M459.4,283.6 L470.6,290.6"/>
<path stroke-width="1.2" d="M501.6,318.8 L513.6,317.0"/>
<path stroke-width="1.2" d="M465.6,292.4 L498.0,320.0 L498.0,326.0"/>
<path stroke-width="1.2" d="M484.8,329.6 L489.6,321.2 L493.2,327.2"/>
<path stroke-width="1.2" d="M519.6,298.4 L529.2,312.8 L519.6,323.6 L519.6,329.6"/>
<path stroke-width="1.2" d="M533.2,290.0 C534.6,292.0 538.6,297.2 541.6,302.0 C544.6,306.8 549.6,316.0 551.2,318.8"/>
<path stroke-width="1.2" d="M520.0,300.8 L529.6,312.8 L524.8,321.2 L520.0,323.6"/>
<path stroke-width="1.2" d="M529.6,312.8 L559.6,297.2 L563.2,297.2"/>
<path stroke-width="1.6" d="M559.6,297.2 C560.6,297.8 563.4,300.0 565.6,300.8 C567.8,301.6 568.4,301.9 572.8,302.0 C577.2,302.1 585.6,302.6 592.0,301.4 C598.4,300.2 608.0,295.9 611.2,294.8"/>
<path stroke-width="1.2" d="M572.8,302.0 C572.4,303.8 569.8,309.6 570.4,312.8 C571.0,316.0 575.4,319.8 576.4,321.2"/>
<path stroke-width="1.2" d="M520.0,325.4 L570.0,316.0 L587.0,312.2"/>
<path stroke-width="1.2" d="M524.8,346.4 L556.0,334.4 L587.2,320.0"/>
<path stroke-width="1.2" d="M527.0,349.4 L558.0,337.0 L588.4,323.6"/>
<path stroke-width="1.2" d="M552.4,339.2 L587.2,344.6"/>
<path stroke-width="1.2" d="M526.0,352.4 L587.2,352.4"/>
<path stroke-width="1.2" d="M534.4,352.4 L535.6,357.2 L574.0,398.0"/>
<path stroke-width="1.2" d="M527.2,352.4 L568.0,395.6"/>
<path stroke-width="1.2" d="M587.2,344.6 C586.9,345.5 585.2,347.9 585.4,350.0 C585.6,352.1 587.9,356.0 588.4,357.2 L596.8,369.2 L606.4,388.4"/>
<path stroke-width="1.2" d="M589.6,346.4 L592.0,354.0 L601.6,369.2 L611.2,388.4"/>
<path stroke-width="1.2" d="M587.2,344.6 L611.2,330.8 L640.0,326.0"/>
<path stroke-width="1.2" d="M589.6,346.4 L613.6,332.0 L640.0,328.4"/>
<path stroke-width="1.2" d="M589.6,346.4 L604.0,351.2 L618.4,338.0 L640.0,336.8"/>
<path stroke-width="1.2" d="M604.0,351.2 L607.6,364.4 L613.6,376.4"/>
<path stroke-width="1.2" d="M611.2,330.8 L618.4,338.0"/>
<path stroke-width="1.2" d="M606.4,364.4 C609.0,363.8 616.4,361.6 622.0,360.8 C627.6,360.0 637.0,359.8 640.0,359.6"/>
<path stroke-width="1.2" d="M611.2,374.0 C613.4,373.2 619.6,370.2 624.4,369.2 C629.2,368.2 637.4,368.2 640.0,368.0"/>
<path stroke-width="1.2" d="M592.0,364.4 L606.4,363.2"/>
<path stroke-width="1.2" d="M596.8,374.0 L608.8,372.8"/>
<path stroke-width="1.2" d="M601.6,382.4 L611.2,381.2"/>
<path stroke-width="1.2" d="M622.0,360.8 L623.2,368.0"/>
<path stroke-width="1.2" d="M520.0,392.0 L534.4,392.0 L576.4,398.0 L604.0,393.2"/>
<path stroke-width="1.2" d="M611.2,294.8 L625.6,305.6 L624.4,326.0"/>
<path stroke-width="1.2" d="M625.6,305.6 L640.0,305.6"/>
<path stroke-width="1.2" d="M605.6,420.4 L600.0,418.0 L588.0,416.0"/>
<path stroke-width="1.2" d="M600.0,418.0 L614.0,420.0 L640.0,422.0 L660.0,424.0"/>
<path stroke-width="1.2" d="M657.4,328.0 C656.9,330.3 654.6,332.7 654.6,342.0 C654.6,351.3 656.0,376.5 657.4,384.0 C658.8,391.5 662.1,386.3 663.0,386.8"/>
<path stroke-width="1.2" d="M660.2,328.0 C659.8,330.3 657.7,332.7 657.8,342.0 C657.9,351.3 660.1,377.0 660.6,384.0"/>
<path stroke-width="1.2" d="M682.6,340.6 L664.4,337.8 L658.8,339.2"/>
<path stroke-width="1.2" d="M664.4,381.2 L684.0,382.6"/>
<path stroke-width="1.2" d="M664.4,392.4 L686.8,395.2"/>
<path stroke-width="1.2" d="M660.2,323.8 L681.2,312.6 L692.4,311.2"/>
<path stroke-width="1.2" d="M626.6,300.0 C629.2,301.9 635.7,308.6 642.0,311.2 C648.3,313.8 657.9,315.9 664.4,315.4 C670.9,314.9 678.4,309.6 681.2,308.4"/>
<path stroke-width="1.2" d="M640.0,326.0 C642.7,326.1 652.9,326.3 656.0,326.6 C659.1,326.9 658.3,327.8 658.8,328.0"/>
<path stroke-width="1.2" d="M640.0,336.8 L653.2,336.4"/>
<path stroke-width="1.2" d="M640.0,359.6 L656.0,364.4"/>
<path stroke-width="1.2" d="M526.8,353.6 L558.0,395.6"/>
<path stroke-width="1.2" d="M535.2,357.2 L576.0,401.6 L590.4,416.0"/>
<circle stroke-width="1.1" cx="501.4" cy="294.8" r="16.8"/>
<circle stroke-width="2.0" cx="501.4" cy="294.8" r="13.0"/>
<circle stroke-width="1.3" cx="501.4" cy="294.8" r="8.4"/>
<circle stroke-width="1.3" cx="501.4" cy="294.8" r="4.9"/>
<path stroke-width="1.3" d="M496.0,297.0 L505.0,292.0"/>
<path stroke-width="1.5" d="M510.0,334.4 L513.6,332.0 C515.4,332.2 522.1,332.2 524.4,333.2 C526.7,334.2 527.2,335.6 527.4,338.0 C527.6,340.4 526.5,343.6 525.6,347.6 C524.7,351.6 522.7,357.2 522.0,362.0 C521.3,366.8 521.0,371.6 521.4,376.4 C521.8,381.2 523.9,388.4 524.4,390.8 C523.2,390.8 519.4,391.4 517.2,390.8 C515.0,390.2 513.0,391.0 511.2,387.2 C509.4,383.4 507.1,374.2 506.4,368.0 C505.7,361.8 506.4,355.6 507.0,350.0 C507.6,344.4 509.5,337.0 510.0,334.4 Z"/>
<path stroke-width="1.1" d="M524.0,334.0 C523.3,337.7 520.3,349.0 519.6,356.0 C518.9,363.0 519.0,370.3 519.6,376.0 C520.2,381.7 522.4,387.7 523.0,390.0"/>
<path stroke-width="1.0" d="M510.0,336.0 L523.0,337.0"/>
<path stroke-width="1.0" d="M508.5,341.0 L521.5,342.0"/>
<path stroke-width="1.0" d="M507.6,347.0 L520.8,348.0"/>
<path stroke-width="1.0" d="M507.0,353.0 L520.0,353.6"/>
<path stroke-width="1.0" d="M506.8,359.0 L519.8,359.5"/>
<path stroke-width="1.0" d="M506.6,365.0 L519.7,365.5"/>
<path stroke-width="1.0" d="M506.6,371.0 L519.7,371.5"/>
<path stroke-width="1.0" d="M507.2,377.0 L520.0,377.5"/>
<path stroke-width="1.0" d="M508.5,383.0 L521.5,383.5"/>
<circle stroke-width="1.0" cx="600.4" cy="317.0" r="15.0"/>
<circle stroke-width="2.0" cx="600.4" cy="317.0" r="12.0"/>
<circle stroke-width="1.2" cx="600.4" cy="317.0" r="9.0"/>
<circle stroke-width="1.2" cx="600.4" cy="317.0" r="6.0"/>
<circle stroke-width="1.5" cx="662.2" cy="403.4" r="15.2"/>
<circle stroke-width="1.3" cx="665.8" cy="403.0" r="10.4"/>
<circle stroke-width="1.1" cx="665.8" cy="403.0" r="8.0"/>
<path stroke-width="0.5" fill="#1a1a1a" d="M663.1,395.5 L662.2,395.9 L661.3,396.4 L660.6,397.0 L659.9,397.6 L659.2,398.4 L658.7,399.2 L658.3,400.1 L658.0,401.1 L657.9,402.0 L657.8,403.0 L657.9,404.0 L658.0,404.9 L658.3,405.9 L658.7,406.8 L659.2,407.6 L659.9,408.4 L660.6,409.0 L661.3,409.6 L662.2,410.1 L663.1,410.5 L665.7,409.4 L665.1,409.1 L664.5,408.6 L664.0,408.1 L663.5,407.6 L663.1,406.9 L662.7,406.2 L662.5,405.4 L662.3,404.6 L662.1,403.8 L662.1,403.0 L662.1,402.2 L662.3,401.4 L662.5,400.6 L662.7,399.8 L663.1,399.1 L663.5,398.4 L664.0,397.9 L664.5,397.4 L665.1,396.9 L665.7,396.6 Z"/>
<path stroke-width="1.2" fill="#ffffff" d="M634,366.5 A26.5,26.5 0 0 1 650,415 L632.6,392.2 Z"/>
<path stroke-width="2.5" stroke="#ffffff" d="M632.6,392.2 L634,366.5 M632.6,392.2 L650,415"/>
<path stroke-width="1.2" d="M634,366.5 A26.5,26.5 0 0 1 650,415"/>
<path stroke-width="1.2" d="M634,368.5 A25,25 0 0 1 648,414"/>
<circle stroke-width="1.4" fill="#ffffff" cx="632.6" cy="392.2" r="23.0"/>
<circle stroke-width="1.1" cx="632.6" cy="392.2" r="20.8"/>
<circle stroke-width="2.0" cx="632.6" cy="392.2" r="18.0"/>
<circle stroke-width="1.1" cx="632.6" cy="392.2" r="16.0"/>
<circle stroke-width="1.1" cx="632.6" cy="392.2" r="12.0"/>
<circle stroke-width="1.1" cx="632.6" cy="392.2" r="8.8"/>
<circle stroke-width="1.8" cx="632.6" cy="392.2" r="7.0"/>
<path stroke-width="1.0" d="M630,398 A6,6 0 0 1 636,387"/>
<path stroke-width="1.5" d="M711.6,460.4 C713.5,459.6 719.1,457.5 722.8,455.6 C726.5,453.7 730.3,452.4 734.0,449.2 C737.7,446.0 741.3,440.2 745.2,436.4 C749.1,432.6 755.2,427.9 757.2,426.2"/>
<path stroke-width="1.5" d="M711.6,460.4 C711.2,462.0 709.7,465.3 709.2,470.1 C708.7,474.9 708.5,483.9 708.5,489.0 C708.5,494.1 708.6,497.4 709.2,500.9 C709.8,504.4 710.5,507.1 712.0,510.0 C713.5,512.9 713.8,514.5 718.0,518.0 C722.2,521.5 731.1,526.5 737.2,530.8 C743.3,535.1 751.9,541.5 754.8,543.6"/>
<path stroke-width="1.1" d="M709.0,502.0 C712.5,503.1 724.8,507.5 730.0,508.5 C735.2,509.5 738.3,508.2 740.0,508.2"/>
<path stroke-width="1.1" d="M718.3,460.3 C717.8,463.3 715.9,472.6 715.5,478.5 C715.1,484.4 715.3,490.8 716.2,496.0 C717.1,501.2 720.3,507.7 721.1,510.0"/>
<circle stroke-width="1.5" cx="761.4" cy="451.4" r="9.8"/>
<circle stroke-width="1.2" cx="761.4" cy="451.4" r="7.4"/>
<circle stroke-width="0.5" fill="#1a1a1a" cx="761.4" cy="451.4" r="5.0"/>
<circle stroke-width="1.5" cx="738.0" cy="486.0" r="13.5"/>
<circle stroke-width="1.0" cx="738.0" cy="486.0" r="11.0"/>
<path stroke-width="0.6" d="M741.0,486.0 L748.5,486.0 M741.0,486.5 L748.3,487.8 M740.8,487.0 L747.9,489.6 M740.6,487.5 L747.1,491.2 M740.3,487.9 L746.0,492.7 M739.9,488.3 L744.7,494.0 M739.5,488.6 L743.2,495.1 M739.0,488.8 L741.6,495.9 M738.5,489.0 L739.8,496.3 M738.0,489.0 L738.0,496.5 M737.5,489.0 L736.2,496.3 M737.0,488.8 L734.4,495.9 M736.5,488.6 L732.8,495.1 M736.1,488.3 L731.3,494.0 M735.7,487.9 L730.0,492.7 M735.4,487.5 L728.9,491.2 M735.2,487.0 L728.1,489.6 M735.0,486.5 L727.7,487.8 M735.0,486.0 L727.5,486.0 M735.0,485.5 L727.7,484.2 M735.2,485.0 L728.1,482.4 M735.4,484.5 L728.9,480.8 M735.7,484.1 L730.0,479.3 M736.1,483.7 L731.3,478.0 M736.5,483.4 L732.8,476.9 M737.0,483.2 L734.4,476.1 M737.5,483.0 L736.2,475.7 M738.0,483.0 L738.0,475.5 M738.5,483.0 L739.8,475.7 M739.0,483.2 L741.6,476.1 M739.5,483.4 L743.2,476.9 M739.9,483.7 L744.7,478.0 M740.3,484.1 L746.0,479.3 M740.6,484.5 L747.1,480.8 M740.8,485.0 L747.9,482.4 M741.0,485.5 L748.3,484.2"/>
<circle stroke-width="0.5" fill="#1a1a1a" cx="738.0" cy="486.0" r="3.2"/>
<path stroke-width="1.5" d="M685.4,468.0 C687.7,468.1 696.8,468.0 699.4,468.7 C702.0,469.4 700.7,471.4 701.0,472.0 C700.7,474.8 700.2,485.6 699.4,489.0 C698.6,492.4 696.6,491.9 696.0,492.5 C693.5,492.4 683.8,493.0 681.0,491.8 C678.2,490.6 679.3,488.3 679.1,485.5 C678.9,482.7 678.8,477.9 679.8,475.0 C680.8,472.1 684.5,469.2 685.4,468.0 Z"/>
<path stroke-width="1.5" d="M700.8,470.8 C702.1,471.0 707.1,471.5 708.5,472.2 C709.9,472.9 708.8,474.5 708.9,475.0 L707.1,489.0 C706.6,490.6 705.0,497.1 704.3,498.8 C703.6,500.6 703.1,499.4 702.9,499.5 L681.0,492.0"/>
<path stroke-width="1.2" d="M681.9,475.7 L699.4,478.2"/>
<path stroke-width="1.2" d="M680.5,484.1 L698.7,486.2"/>
<path stroke-width="1.2" d="M705.7,479.2 L705.7,493.2"/>
<path stroke-width="1.2" d="M699.4,489.0 L704.3,497.0"/>
<path stroke-width="1.5" d="M737.8,402.5 C738.2,402.3 739.4,401.4 740.0,401.5 C740.6,401.6 741.2,402.8 741.5,403.0 C741.9,405.0 743.6,412.7 743.8,415.0 C744.0,417.3 743.3,416.8 742.8,417.0 C742.2,417.2 740.9,416.6 740.5,416.5 C740.1,414.4 738.5,406.3 738.0,404.0 C737.5,401.7 737.8,402.8 737.8,402.5"/>
<path stroke-width="1.5" d="M742.5,416.5 L746.0,420.0 L759.6,426.8"/>
<path stroke-width="1.5" d="M743.0,414.5 L747.0,417.5 L760.0,424.0"/>
<path stroke-width="1.5" d="M759.6,423.8 C760.4,422.4 762.0,418.4 764.4,415.4 C766.8,412.4 770.6,408.5 774.0,405.8 C777.4,403.1 781.8,400.2 784.8,399.2 C787.8,398.2 789.8,399.1 792.0,399.8 C794.2,400.5 796.4,401.6 798.0,403.4 C799.6,405.2 799.6,404.4 801.6,410.6 C803.6,416.8 808.3,433.8 810.0,440.6 C811.7,447.4 811.8,447.8 811.8,451.4 C811.8,455.0 811.1,458.8 810.0,462.2 C808.9,465.6 806.4,468.2 805.2,471.8 C804.0,475.4 803.6,480.0 802.8,483.8 C802.0,487.6 801.6,491.8 800.4,494.6 C799.2,497.4 797.6,498.8 795.6,500.6 C793.6,502.4 789.6,504.6 788.4,505.4"/>
<path stroke-width="1.2" d="M790.8,401.0 C793.6,408.0 804.6,434.4 807.6,443.0 C810.6,451.6 809.0,449.4 808.8,452.6 C808.6,455.8 807.8,458.8 806.4,462.2 C805.0,465.6 802.0,469.2 800.4,473.0 C798.8,476.8 797.6,483.0 797.0,485.0"/>
<path stroke-width="1.2" d="M793.0,403.0 C795.0,409.2 802.8,431.8 805.0,440.0 C807.2,448.2 806.2,450.0 806.5,452.0 L803.0,463.0"/>
<path stroke-width="1.2" d="M769.2,421.4 C770.0,420.2 772.0,416.2 774.0,414.2 C776.0,412.2 778.4,410.4 781.2,409.4 C784.0,408.4 788.4,408.2 790.8,408.2 C793.2,408.2 793.2,403.6 795.6,409.4 C798.0,415.2 803.4,435.8 805.2,443.0 C807.0,450.2 806.8,449.2 806.4,452.6 C806.0,456.0 804.6,459.8 802.8,463.4 C801.0,467.0 797.8,471.2 795.6,474.2 C793.4,477.2 790.6,480.2 789.6,481.4"/>
<path stroke-width="1.2" d="M769.2,421.4 C769.3,422.2 769.0,424.9 770.0,426.0 C771.0,427.1 774.2,427.7 775.0,428.0"/>
<path stroke-width="1.2" d="M776.0,411.0 L779.0,418.0"/>
<path stroke-width="1.2" d="M786.0,408.5 L786.0,413.0"/>
<path stroke-width="1.2" d="M776.4,425.0 C778.6,426.4 786.4,430.4 789.6,433.4 C792.8,436.4 794.2,439.4 795.6,443.0 C797.0,446.6 798.0,451.0 798.0,455.0 C798.0,459.0 797.0,464.0 795.6,467.0 C794.2,470.0 790.6,472.0 789.6,473.0"/>
<path stroke-width="1.2" d="M778.0,430.0 C779.3,431.2 783.8,434.3 786.0,437.0 C788.2,439.7 790.0,442.5 791.0,446.0 C792.0,449.5 792.3,454.3 792.0,458.0 C791.7,461.7 789.5,466.3 789.0,468.0"/>
<path stroke-width="1.2" d="M784.8,469.4 L782.4,481.4 L789.6,481.4 L795.0,474.0"/>
<path stroke-width="1.2" d="M777.6,494.6 L787.2,495.8"/>
<path stroke-width="1.2" d="M773.0,499.0 L778.0,482.0 L786.0,485.0"/>
<circle stroke-width="1.4" cx="795.6" cy="497.0" r="7.0"/>
<circle stroke-width="1.1" cx="795.6" cy="497.0" r="4.5"/>
<path stroke-width="1.5" d="M757.2,426.2 C759.0,426.4 764.8,426.6 768.0,427.4 C771.2,428.2 773.6,428.8 776.4,431.0 C779.2,433.2 783.0,437.4 784.8,440.6 C786.6,443.8 787.0,447.2 787.2,450.2 C787.4,453.2 786.8,455.8 786.0,458.6 C785.2,461.4 783.6,463.6 782.4,467.0 C781.2,470.4 779.8,475.0 778.8,479.0 C777.8,483.0 777.2,487.6 776.4,491.0 C775.6,494.4 774.6,495.4 774.0,499.4 C773.4,503.4 773.0,512.4 772.8,515.0"/>
<path stroke-width="1.1" d="M784.0,459.0 C783.4,460.3 781.7,463.7 780.5,467.0 C779.3,470.3 778.0,475.0 777.0,479.0 C776.0,483.0 775.3,487.6 774.5,491.0 C773.7,494.4 772.6,495.9 772.0,499.4 C771.4,502.9 771.2,509.9 771.0,512.0"/>
<path stroke-width="1.5" d="M788.4,505.4 C788.5,505.9 788.7,504.5 789.0,508.2 C789.3,511.9 788.8,522.7 790.4,527.8 C792.0,532.9 795.1,534.6 798.8,539.0 C802.5,543.4 807.7,547.9 812.8,554.4 C817.9,560.9 825.4,571.2 829.6,578.2 C833.8,585.2 835.5,586.1 838.0,596.4 C840.5,606.7 841.3,625.1 844.6,640.0 C847.9,654.9 855.0,675.8 857.6,685.5 C860.2,695.2 860.0,693.1 860.2,698.5 C860.4,703.9 860.2,711.3 858.9,718.0 C857.6,724.7 855.2,733.2 852.4,738.8 C849.6,744.4 845.9,748.5 842.0,751.8 C838.1,755.0 833.3,757.0 829.0,758.3 C824.7,759.6 819.2,759.8 816.0,759.6 C812.8,759.4 811.0,758.5 809.5,757.0 C808.0,755.5 807.1,753.1 806.9,750.5 C806.7,747.9 807.3,744.9 808.2,741.4 C809.1,737.9 810.4,733.6 812.1,729.7 C813.8,725.8 816.9,722.5 818.6,718.0 C820.3,713.5 821.9,707.2 822.5,702.4 C823.1,697.6 824.0,696.5 822.5,689.4 C821.0,682.2 816.4,667.7 813.4,659.5 C810.4,651.3 806.5,644.9 804.3,640.0 C802.1,635.1 802.1,635.9 800.2,630.0 C798.4,624.1 795.3,611.8 793.2,604.8 C791.1,597.8 790.2,593.6 787.6,588.0 C785.0,582.4 783.2,577.7 777.8,571.2 C772.4,564.7 761.7,554.6 755.4,548.8 C749.1,543.0 743.7,539.2 740.0,536.2 C736.3,533.2 737.7,535.4 733.0,531.0 C728.3,526.6 716.5,516.5 712.0,510.0 C707.5,503.5 707.0,495.0 706.0,492.0"/>
<path stroke-width="1.2" d="M786.2,508.2 C786.4,511.5 786.0,522.4 787.6,527.8 C789.2,533.2 792.3,535.7 796.0,540.4 C799.7,545.1 804.9,549.3 810.0,555.8 C815.1,562.3 822.4,572.4 826.8,579.6 C831.2,586.8 833.9,589.1 836.6,599.2 C839.4,609.3 840.2,625.4 843.3,640.0 C846.4,654.6 852.6,676.0 855.0,686.8 C857.4,697.6 857.6,698.7 857.6,705.0 C857.6,711.3 856.7,718.4 855.0,724.5 C853.3,730.6 850.2,737.1 847.2,741.4 C844.2,745.7 840.9,748.3 836.8,750.5 C832.7,752.7 826.2,754.2 822.5,754.4 C818.8,754.6 816.0,752.2 814.7,751.8"/>
<path stroke-width="1.2" d="M772.2,490.0 C771.9,492.8 769.9,502.1 770.1,506.8 C770.3,511.5 771.6,514.0 773.6,518.0 C775.6,522.0 777.8,525.2 782.0,530.6 C786.2,536.0 794.1,543.9 798.8,550.2 C803.5,556.5 806.7,561.6 810.0,568.4 C813.3,575.2 815.9,578.9 818.4,590.8 C820.9,602.7 822.5,627.5 825.1,640.0 C827.7,652.5 831.8,658.2 834.2,666.0 C836.6,673.8 838.5,680.9 839.4,686.8 C840.3,692.6 840.3,696.5 839.4,701.1 C838.5,705.7 836.6,709.6 834.2,714.1 C831.8,718.6 828.1,724.3 825.1,728.4 C822.1,732.5 817.7,735.5 816.0,738.8 C814.3,742.0 814.5,745.7 814.7,747.9 C814.9,750.1 816.9,751.1 817.3,751.8"/>
<path stroke-width="1.2" d="M775.0,490.0 C774.6,492.8 772.5,501.9 772.9,506.8 C773.2,511.7 774.9,515.2 777.1,519.4 C779.3,523.6 782.1,526.9 786.2,532.0 C790.3,537.1 797.2,544.1 801.6,550.2 C806.0,556.3 809.2,561.6 812.4,568.4 C815.6,575.2 818.2,578.9 821.0,590.8 C823.8,602.7 826.1,627.5 829.0,640.0 C831.9,652.5 835.9,658.2 838.1,666.0 C840.3,673.8 841.5,680.7 842.0,686.8 C842.5,692.9 842.5,697.4 841.4,702.4 C840.3,707.4 838.0,711.9 835.5,716.7 C833.0,721.5 829.2,726.7 826.4,731.0 C823.6,735.3 819.9,740.8 818.6,742.7"/>
<path stroke-width="1.2" d="M740.0,508.2 C742.3,507.7 749.1,506.6 754.0,505.4 C758.9,504.2 766.8,501.9 769.4,501.2"/>
<path stroke-width="1.2" d="M775.7,492.8 C775.8,494.7 775.4,501.4 776.4,504.0 C777.4,506.6 779.7,507.7 782.0,508.2 C784.3,508.7 787.6,508.0 790.4,506.8 C793.2,505.6 796.9,503.5 798.8,501.2 C800.7,498.9 801.1,494.2 801.6,492.8"/>
<path stroke-width="1.2" d="M775.0,511.0 L786.2,508.2"/>
<path stroke-width="1.2" d="M755.4,548.8 L777.8,527.8"/>
<path stroke-width="1.2" d="M740.0,526.4 L759.6,540.4"/>
<path stroke-width="1.2" d="M777.8,571.2 L800.2,551.6"/>
<path stroke-width="1.2" d="M791.8,602.0 L815.6,589.4"/>
<path stroke-width="1.2" d="M821.2,603.4 L835.2,597.8"/>
<path stroke-width="1.2" d="M814.7,728.4 L818.6,734.9"/>
<path stroke-width="1.2" d="M829.0,732.3 C830.1,733.4 834.0,737.1 835.5,738.8 C837.0,740.5 837.7,742.1 838.1,742.7"/>
</g>
</svg>
</body></html>
